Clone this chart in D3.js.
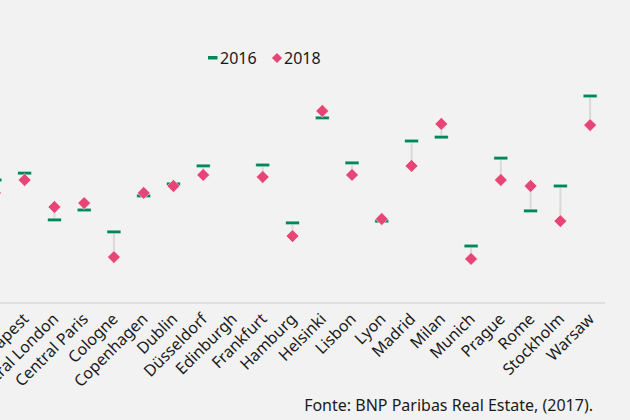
<!DOCTYPE html>
<html>
<head>
<meta charset="utf-8">
<script src="https://cdn.jsdelivr.net/npm/d3@7"></script>
<style>
  html, body { margin: 0; padding: 0; background: #f2f2f2; }
  svg { display: block; font-family: "Noto Sans", "Open Sans", sans-serif; }
</style>
</head>
<body>
<svg id="svg"></svg>
<script>
const cities = ["Brussels", "Budapest", "Central London", "Central Paris", "Cologne", "Copenhagen",
  "Dublin", "Düsseldorf", "Edinburgh", "Frankfurt", "Hamburg", "Helsinki", "Lisbon", "Lyon",
  "Madrid", "Milan", "Munich", "Prague", "Rome", "Stockholm", "Warsaw"]
const values2016 = [4.10, 4.33, 2.77, 3.10, 2.37, 3.57, 3.97, 4.57, null, 4.60, 2.67, 6.17,
  4.67, 2.73, 5.40, 5.53, 1.90, 4.83, 3.07, 3.90, 6.90]
const values2018 = [3.67, 4.10, 3.20, 3.33, 1.53, 3.67, 3.90, 4.27, null, 4.20, 2.23, 6.40,
  4.27, 2.80, 4.57, 5.97, 1.47, 4.10, 3.90, 2.73, 5.93]
const seriesNames = ["2016", "2018"]
const source = "Fonte: BNP Paribas Real Estate, (2017)."

const width = 630, height = 420
const green = "#00875a", pink = "#e64576"

const data = cities.map((c, i) => ({ city: c, a: values2016[i], b: values2018[i] }))

const x = d3.scaleBand().domain(cities).range([-20, 605])
const y = d3.scaleLinear().domain([0, 8]).range([303, 63])
const cx = d => x(d.city) + x.bandwidth() / 2

const svg = d3.select("#svg")
  .attr("width", width)
  .attr("height", height)
  .attr("viewBox", [0, 0, width, height])

svg.append("rect").attr("width", width).attr("height", height).attr("fill", "#f2f2f2")

// axis line + rotated labels
const xAxis = g => g
  .attr("transform", `translate(0,${y(0)})`)
  .call(d3.axisBottom(x).tickSize(0).tickPadding(0))
  .call(g => g.select(".domain").attr("stroke", "#d9d9d9").attr("stroke-width", 1.3)
    .attr("d", `M0,0H${x.range()[1]}`))
  .call(g => g.selectAll("text")
    .attr("fill", "#1a1a1a")
    .attr("font-size", 16)
    .attr("font-family", "Noto Sans, sans-serif")
    .attr("text-anchor", "end")
    .attr("dy", null)
    .attr("transform", "translate(5,17) rotate(-45)"))

svg.append("g").call(xAxis)

const pts = data.filter(d => d.a != null && d.b != null)

// connectors
svg.append("g")
  .selectAll("line")
  .data(pts)
  .join("line")
    .attr("x1", cx).attr("x2", cx)
    .attr("y1", d => y(d.a)).attr("y2", d => y(d.b))
    .attr("stroke", "#d9d9d9")
    .attr("stroke-width", 2)

// 2016 dashes
svg.append("g")
  .selectAll("rect")
  .data(pts)
  .join("rect")
    .attr("x", d => cx(d) - 7)
    .attr("y", d => y(d.a) - 1.8)
    .attr("width", 14)
    .attr("height", 3.6)
    .attr("fill", green)
    .attr("stroke", "#ffffff")
    .attr("stroke-opacity", 0.7)
    .attr("stroke-width", 0.8)

// 2018 diamonds
const diamond = d3.symbol(d3.symbolSquare, 82)
svg.append("g")
  .selectAll("path")
  .data(pts)
  .join("path")
    .attr("d", diamond)
    .attr("transform", d => `translate(${cx(d)},${y(d.b)}) rotate(45)`)
    .attr("fill", pink)
    .attr("stroke", "#ffffff")
    .attr("stroke-opacity", 0.6)
    .attr("stroke-width", 0.8)

// legend
const legend = svg.append("g").attr("font-size", 16).attr("fill", "#1a1a1a")
legend.append("rect").attr("x", 208).attr("y", 56).attr("width", 9.5).attr("height", 3.5).attr("fill", green)
legend.append("text").attr("x", 220).attr("y", 63.5).text(seriesNames[0])
legend.append("path").attr("d", d3.symbol(d3.symbolSquare, 52)())
  .attr("transform", "translate(277,58) rotate(45)").attr("fill", pink)
legend.append("text").attr("x", 284).attr("y", 63.5).text(seriesNames[1])

svg.append("text")
  .attr("x", 593).attr("y", 411)
  .attr("text-anchor", "end")
  .attr("font-size", 16)
  .attr("fill", "#1a1a1a")
  .text(source)
</script>
</body>
</html>
